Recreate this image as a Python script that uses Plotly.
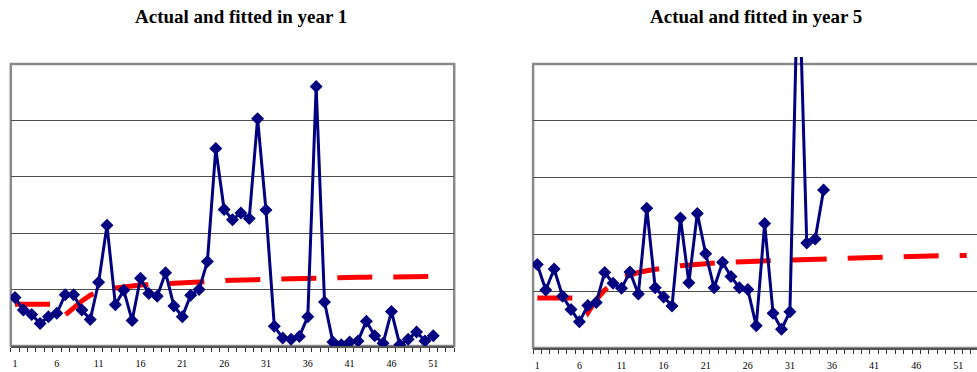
import plotly.graph_objects as go

# ---------------- data ----------------
actual_y1 = [0.86, 0.64, 0.56, 0.40, 0.52, 0.58, 0.91, 0.91, 0.64, 0.47,
             1.13, 2.14, 0.73, 0.99, 0.45, 1.20, 0.93, 0.88, 1.30, 0.71,
             0.52, 0.90, 1.00, 1.50, 3.50, 2.42, 2.24, 2.36, 2.26, 4.03,
             2.41, 0.35, 0.14, 0.12, 0.17, 0.52, 4.60, 0.78, 0.07, 0.02,
             0.07, 0.09, 0.44, 0.18, 0.05, 0.61, 0.02, 0.12, 0.25, 0.09, 0.18]

fitted_y1 = [0.74, 0.74, 0.74, 0.74, 0.74, 0.74, 0.55, 0.68, 0.80, 0.90,
             0.97, 1.01, 1.035, 1.05, 1.065, 1.08, 1.09, 1.10, 1.11, 1.12,
             1.13, 1.135, 1.14, 1.15, 1.155, 1.16, 1.165, 1.17, 1.175, 1.18,
             1.185, 1.19, 1.19, 1.195, 1.20, 1.20, 1.205, 1.21, 1.21, 1.215,
             1.215, 1.22, 1.22, 1.22, 1.225, 1.225, 1.225, 1.23, 1.23, 1.23,
             1.23, 1.235]

actual_y5 = [1.47, 1.02, 1.39, 0.91, 0.68, 0.46, 0.75, 0.80, 1.33, 1.14,
             1.05, 1.34, 0.95, 2.46, 1.06, 0.90, 0.74, 2.29, 1.15, 2.37,
             1.66, 1.06, 1.51, 1.26, 1.06, 1.03, 0.39, 2.19, 0.61, 0.33,
             0.64, 7.00, 1.85, 1.92, 2.78]

fitted_y5 = [0.88, 0.88, 0.88, 0.88, 0.88, 0.88, 0.62, 0.85, 1.02, 1.14,
             1.23, 1.29, 1.33, 1.36, 1.39, 1.41, 1.43, 1.45, 1.465, 1.48,
             1.49, 1.50, 1.505, 1.51, 1.52, 1.525, 1.53, 1.535, 1.54, 1.545,
             1.55, 1.555, 1.56, 1.565, 1.57, 1.58, 1.585, 1.59, 1.595, 1.60,
             1.605, 1.61, 1.61, 1.615, 1.615, 1.62, 1.62, 1.62, 1.625, 1.625,
             1.625, 1.63]

tick_labels = ["1", "6", "11", "16", "21", "26", "31", "36", "41", "46", "51"]
tick_positions = [int(t) for t in tick_labels]
grid_values = [1, 2, 3, 4]

titles = ["Actual and fitted in year 1", "Actual and fitted in year 5"]

# ---------------- styling ----------------
W, H = 977, 372
NAVY = "#000080"
RED = "#FF0000"
FRAME = "#8a8a8a"
SERIF = "Liberation Serif, Times New Roman, serif"

def px_x(p):
    return p / W

def px_y(p):
    return (H - p) / H

fig = go.Figure()

panels = [
    dict(actual=actual_y1, fitted=fitted_y1, xa="x", ya="y",
         left=10.8, right=454.2, bottom=346, frametop=64, plottop=57,
         xmax=53.5),
    dict(actual=actual_y5, fitted=fitted_y5, xa="x2", ya="y2",
         left=533.1, right=977, bottom=348, frametop=64, plottop=57,
         xmax=0.5 + (977 - 533.1) / 8.42),
]

layout_axes = {}
shapes = []
for i, p in enumerate(panels):
    xs_f = list(range(1, len(p["fitted"]) + 1))
    xs_a = list(range(1, len(p["actual"]) + 1))
    fig.add_trace(go.Scatter(x=xs_f, y=p["fitted"], mode="lines",
                             line=dict(color=RED, width=5, dash="35px,21px"),
                             xaxis=p["xa"], yaxis=p["ya"], showlegend=False,
                             hoverinfo="skip"))
    fig.add_trace(go.Scatter(x=xs_a, y=p["actual"], mode="lines+markers",
                             line=dict(color=NAVY, width=3),
                             marker=dict(symbol="diamond", size=10, color=NAVY,
                                         line=dict(width=0)),
                             xaxis=p["xa"], yaxis=p["ya"], showlegend=False,
                             cliponaxis=True))
    unit = (p["bottom"] - p["frametop"]) / 5.0
    ytop = (p["bottom"] - p["plottop"]) / unit
    xkey = "xaxis" if i == 0 else "xaxis2"
    ykey = "yaxis" if i == 0 else "yaxis2"
    layout_axes[xkey] = dict(
        domain=[px_x(p["left"]), min(1.0, px_x(p["right"]))],
        range=[0.5, p["xmax"]], anchor=p["ya"],
        tickmode="array", tickvals=tick_positions, ticktext=tick_labels,
        ticks="", showgrid=False, zeroline=False,
        showline=True, linecolor="#555555", linewidth=2,
        ticklabelstandoff=7,
        tickfont=dict(family=SERIF, size=10, color="#000000"),
        minor=dict(tick0=0.5, dtick=1, ticks="outside", ticklen=4,
                   tickwidth=1, tickcolor="#333333", showgrid=False),
        fixedrange=True,
    )
    layout_axes[ykey] = dict(
        domain=[px_y(p["bottom"]), px_y(p["plottop"])],
        range=[0, ytop], anchor=p["xa"],
        tickmode="array", tickvals=grid_values, showticklabels=False,
        ticks="", showgrid=True, gridcolor="#4d4d4d", gridwidth=1,
        zeroline=False, showline=False, fixedrange=True,
    )
    shapes.append(dict(type="rect", xref="paper", yref="paper",
                       x0=px_x(p["left"]), x1=px_x(p["right"]) if p["right"] < 977 else 1.01,
                       y0=px_y(p["bottom"]), y1=px_y(p["frametop"]),
                       line=dict(color=FRAME, width=2.5), layer="below"))

annotations = []
for t, cx in zip(titles, [241.0, 756.0]):
    annotations.append(dict(text="<b>" + t + "</b>", xref="paper", yref="paper",
                            x=px_x(cx), y=px_y(17), xanchor="center", yanchor="middle",
                            showarrow=False,
                            font=dict(family=SERIF, size=19, color="#000000")))

fig.update_layout(width=W, height=H, margin=dict(l=0, r=0, t=0, b=0),
                  paper_bgcolor="white", plot_bgcolor="white",
                  shapes=shapes, annotations=annotations, **layout_axes)

fig.write_html("out.html")
